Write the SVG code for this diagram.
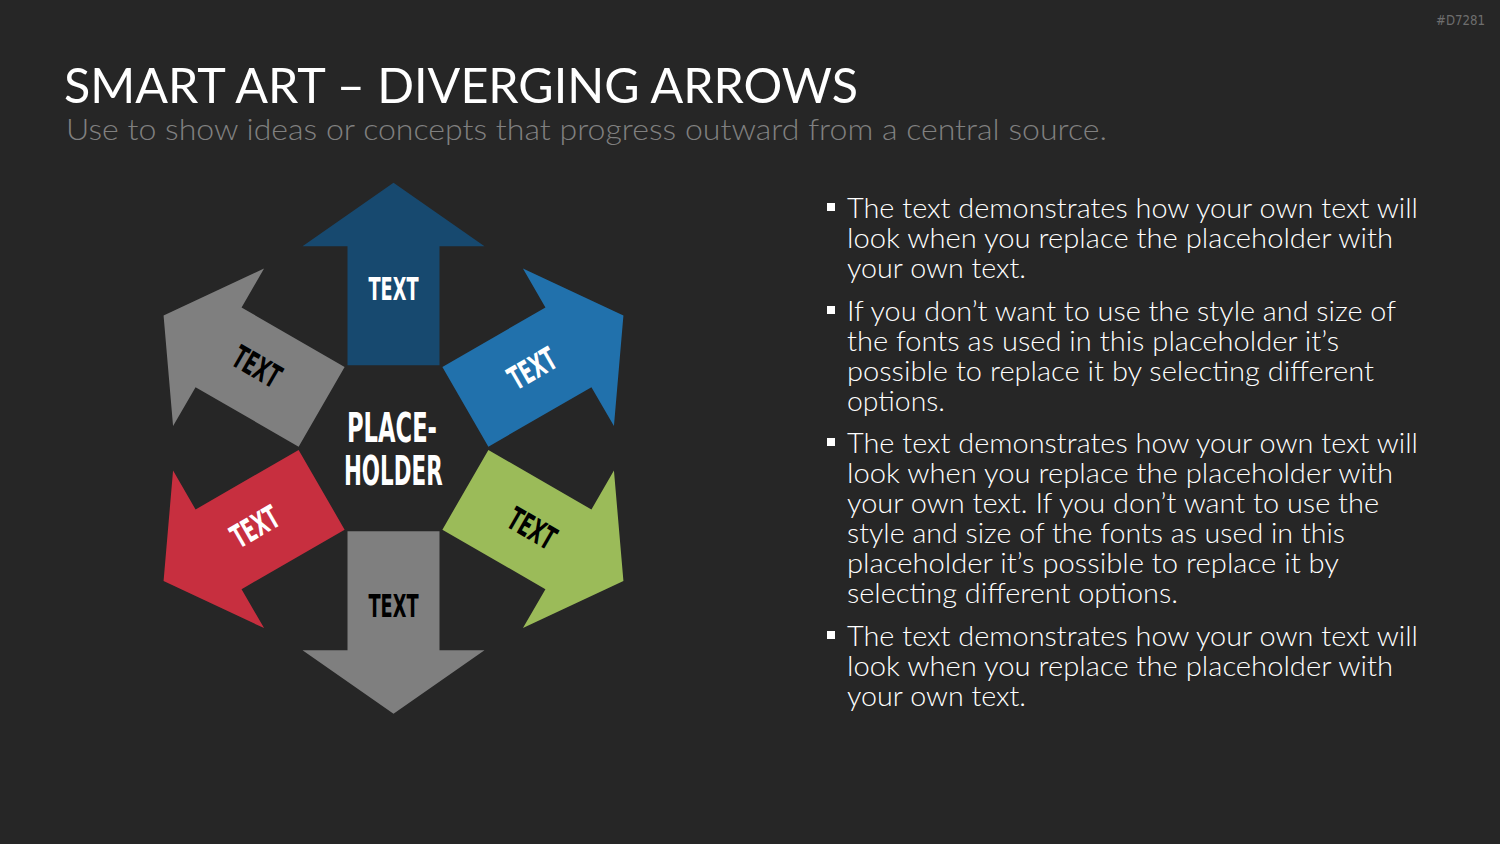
<svg xmlns="http://www.w3.org/2000/svg" xmlns:xlink="http://www.w3.org/1999/xlink" width="1500" height="844" viewBox="0 0 1500 844">
  <style>
    .title { font-family: Lato, "Open Sans", sans-serif; font-weight: 400; fill: #ffffff; }
    .sub { font-family: Lato, "Open Sans", sans-serif; font-weight: 300; fill: #808080; }
    .body { font-family: Lato, "Open Sans", sans-serif; font-weight: 300; fill: #ffffff; font-size: 26.5px; }
    .lbl { font-family: "DejaVu Sans Condensed", "DejaVu Sans", sans-serif; font-weight: bold; font-size: 32px; text-anchor: middle; }
    .center { font-family: "DejaVu Sans Condensed", "DejaVu Sans", sans-serif; font-weight: bold; font-size: 41px; fill: #ffffff; text-anchor: middle; }
    .w { fill: #ffffff; }
    .k { fill: #000000; }
    .mark { font-family: "DejaVu Sans", sans-serif; font-size: 13.5px; fill: #6e6e6e; }
  </style>
  <defs>
    <path id="arr" d="M0,-265.5 L91,-202 L46,-202 L46,-83 L-46,-83 L-46,-202 L-91,-202 Z"/>
    <rect id="bul" width="8" height="8" fill="#ffffff"/>
  </defs>
  <rect width="1500" height="844" fill="#262626"/>
  <text class="mark" x="1436" y="25" textLength="49" lengthAdjust="spacingAndGlyphs">#D7281</text>

  <g id="header">
    <text class="title" x="64" y="103" font-size="49" textLength="794" lengthAdjust="spacingAndGlyphs">SMART ART – DIVERGING ARROWS</text>
    <text class="sub" x="66" y="140" font-size="30" textLength="1041" lengthAdjust="spacingAndGlyphs">Use to show ideas or concepts that progress outward from a central source.</text>
  </g>

  <g id="connectors"></g>

  <g id="arrow-up">
    <use xlink:href="#arr" href="#arr" transform="translate(393.5,448.3)" fill="#17496F"/>
    <text class="lbl w" transform="translate(393.5,288.3)" x="0" y="11.5" textLength="50" lengthAdjust="spacingAndGlyphs">TEXT</text>
  </g>
  <g id="arrow-upper-right">
    <use xlink:href="#arr" href="#arr" transform="translate(393.5,448.3) rotate(60)" fill="#2171AC"/>
    <text class="lbl w" transform="translate(532.1,368.3) rotate(-30)" x="0" y="11.5" textLength="50" lengthAdjust="spacingAndGlyphs">TEXT</text>
  </g>
  <g id="arrow-lower-right">
    <use xlink:href="#arr" href="#arr" transform="translate(393.5,448.3) rotate(120)" fill="#9BBB59"/>
    <text class="lbl k" transform="translate(532.1,528.3) rotate(30)" x="0" y="11.5" textLength="50" lengthAdjust="spacingAndGlyphs">TEXT</text>
  </g>
  <g id="arrow-down">
    <use xlink:href="#arr" href="#arr" transform="translate(393.5,448.3) rotate(180)" fill="#7F7F7F"/>
    <text class="lbl k" transform="translate(393.5,605.5)" x="0" y="11.5" textLength="50" lengthAdjust="spacingAndGlyphs">TEXT</text>
  </g>
  <g id="arrow-lower-left">
    <use xlink:href="#arr" href="#arr" transform="translate(393.5,448.3) rotate(240)" fill="#C72F3F"/>
    <text class="lbl w" transform="translate(254.9,526.5) rotate(-30)" x="0" y="11.5" textLength="50" lengthAdjust="spacingAndGlyphs">TEXT</text>
  </g>
  <g id="arrow-upper-left">
    <use xlink:href="#arr" href="#arr" transform="translate(393.5,448.3) rotate(300)" fill="#7F7F7F"/>
    <text class="lbl k" transform="translate(257,366.5) rotate(30)" x="0" y="11.5" textLength="50" lengthAdjust="spacingAndGlyphs">TEXT</text>
  </g>

  <g id="center">
    <text class="center" x="392" y="441.7" textLength="90" lengthAdjust="spacingAndGlyphs">PLACE-</text>
    <text class="center" x="393.3" y="485" textLength="98.7" lengthAdjust="spacingAndGlyphs">HOLDER</text>
  </g>

  <g id="bullets">
    <use href="#bul" xlink:href="#bul" x="827" y="203"/>
    <text class="body" x="847" y="218" textLength="571" lengthAdjust="spacingAndGlyphs">The text demonstrates how your own text will</text>
    <text class="body" x="847" y="248" textLength="546" lengthAdjust="spacingAndGlyphs">look when you replace the placeholder with</text>
    <text class="body" x="847" y="278" textLength="179" lengthAdjust="spacingAndGlyphs">your own text.</text>

    <use href="#bul" xlink:href="#bul" x="827" y="306"/>
    <text class="body" x="847" y="321" textLength="549" lengthAdjust="spacingAndGlyphs">If you don’t want to use the style and size of</text>
    <text class="body" x="847" y="351" textLength="492" lengthAdjust="spacingAndGlyphs">the fonts as used in this placeholder it’s</text>
    <text class="body" x="847" y="381" textLength="527" lengthAdjust="spacingAndGlyphs">possible to replace it by selecting different</text>
    <text class="body" x="847" y="411" textLength="98" lengthAdjust="spacingAndGlyphs">options.</text>

    <use href="#bul" xlink:href="#bul" x="827" y="438"/>
    <text class="body" x="847" y="453" textLength="571" lengthAdjust="spacingAndGlyphs">The text demonstrates how your own text will</text>
    <text class="body" x="847" y="483" textLength="546" lengthAdjust="spacingAndGlyphs">look when you replace the placeholder with</text>
    <text class="body" x="847" y="513" textLength="532" lengthAdjust="spacingAndGlyphs">your own text. If you don’t want to use the</text>
    <text class="body" x="847" y="543" textLength="498" lengthAdjust="spacingAndGlyphs">style and size of the fonts as used in this</text>
    <text class="body" x="847" y="573" textLength="492" lengthAdjust="spacingAndGlyphs">placeholder it’s possible to replace it by</text>
    <text class="body" x="847" y="603" textLength="331" lengthAdjust="spacingAndGlyphs">selecting different options.</text>

    <use href="#bul" xlink:href="#bul" x="827" y="631"/>
    <text class="body" x="847" y="646" textLength="571" lengthAdjust="spacingAndGlyphs">The text demonstrates how your own text will</text>
    <text class="body" x="847" y="676" textLength="546" lengthAdjust="spacingAndGlyphs">look when you replace the placeholder with</text>
    <text class="body" x="847" y="706" textLength="179" lengthAdjust="spacingAndGlyphs">your own text.</text>
  </g>
</svg>
